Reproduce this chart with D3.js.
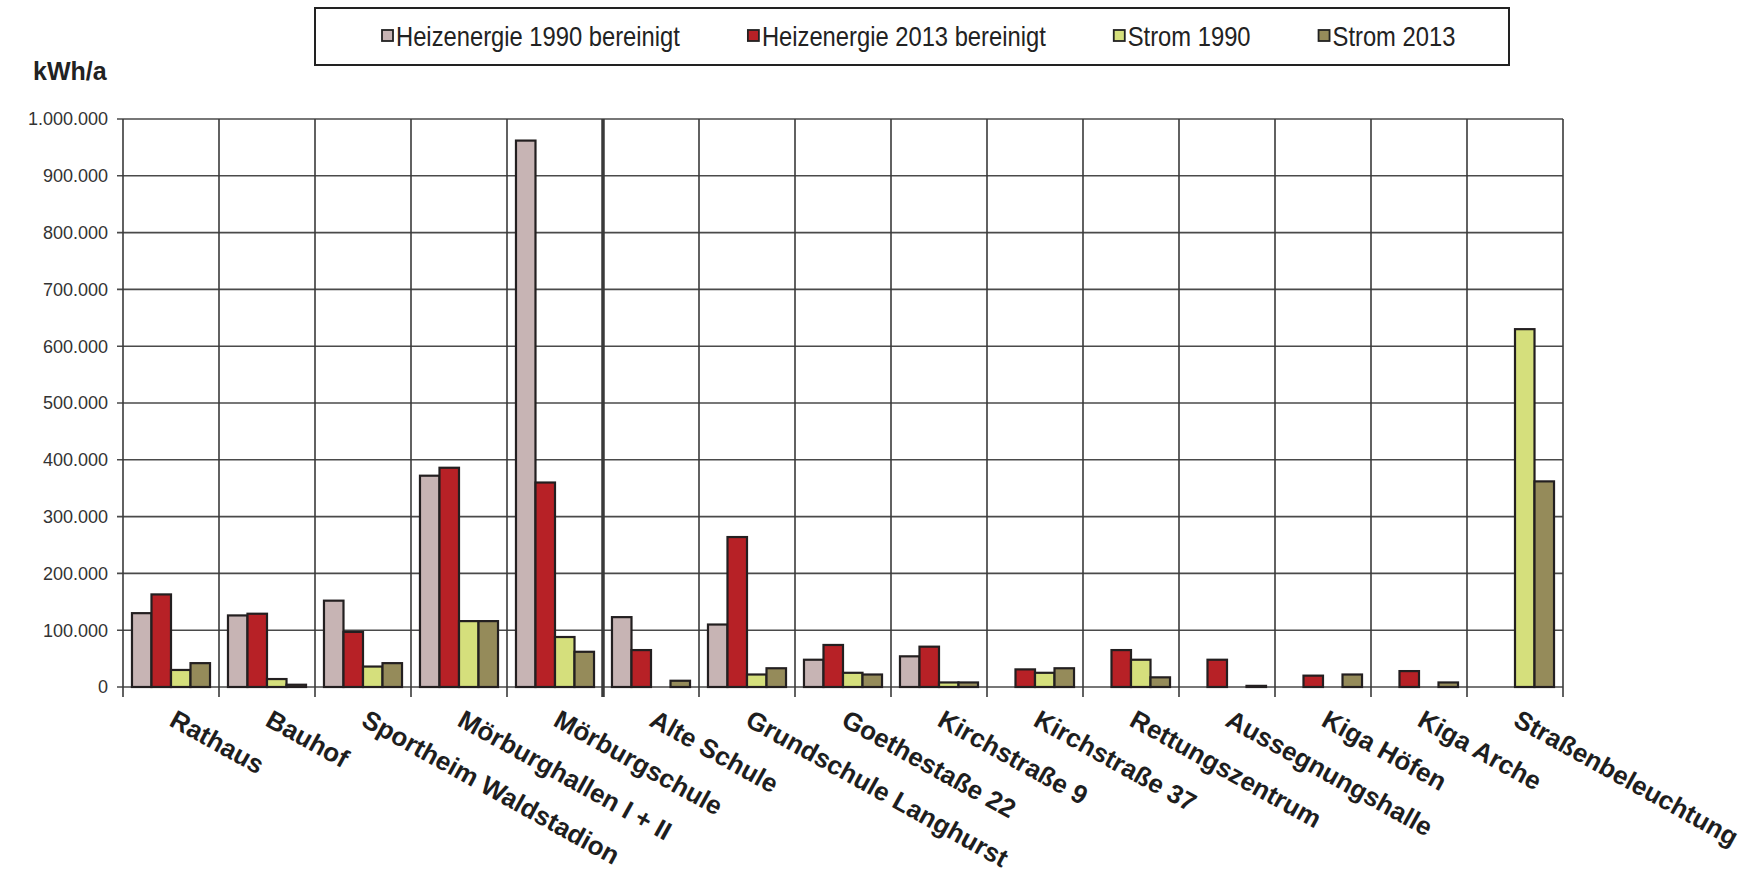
<!DOCTYPE html>
<html>
<head>
<meta charset="utf-8">
<script src="https://cdn.jsdelivr.net/npm/d3@7"></script>
<style>
  body { margin: 0; background: #fff; }
</style>
</head>
<body>
<script>
// Verbrauch der kommunalen Liegenschaften (kWh/a)
var categories = ["Rathaus", "Bauhof", "Sportheim Waldstadion", "Mörburghallen I + II", "Mörburgschule",
                  "Alte Schule", "Grundschule Langhurst", "Goethestaße 22", "Kirchstraße 9", "Kirchstraße 37",
                  "Rettungszentrum", "Aussegnungshalle", "Kiga Höfen", "Kiga Arche", "Straßenbeleuchtung"];
var heiz1990  = [130000, 126000, 152000, 372000, 962000, 123000, 110000, 48000, 54000, 0, 0, 0, 0, 0, 0];
var heiz2013  = [163000, 129000, 97000, 386000, 360000, 65000, 264000, 74000, 71000, 31000, 65000, 48000, 20000, 28000, 0];
var strom1990 = [30000, 14000, 36000, 116000, 88000, 0, 22000, 25000, 8000, 25000, 48000, 0, 0, 0, 630000];
var strom2013 = [42000, 4000, 42000, 116000, 62000, 11000, 33000, 22000, 8000, 33000, 17000, 2000, 22000, 8000, 362000];
var seriesNames = ["Heizenergie 1990 bereinigt", "Heizenergie 2013 bereinigt", "Strom 1990", "Strom 2013"];
var seriesColors = ["#c7b4b4", "#b72126", "#d5df7c", "#958b5a"];
var yTicks = [0, 100000, 200000, 300000, 400000, 500000, 600000, 700000, 800000, 900000, 1000000];

var W = 1760, H = 884;
var margin = {top: 119, right: 197, bottom: 197, left: 123},
    width = W - margin.left - margin.right,
    height = H - margin.top - margin.bottom;

var allSeries = [heiz1990, heiz2013, strom1990, strom2013];

var de = d3.formatLocale({decimal: ",", thousands: ".", grouping: [3], currency: ["", "€"]});
var fmt = de.format(",");

var svg = d3.select("body").append("svg")
    .attr("width", W)
    .attr("height", H)
    .style("background", "#fff");

var g = svg.append("g")
    .attr("transform", "translate(" + margin.left + "," + margin.top + ")");

var x0 = d3.scaleBand()
    .domain(categories)
    .range([0, width])
    .padding(0);

var x1 = d3.scaleBand()
    .domain(d3.range(seriesNames.length))
    .range([0, x0.bandwidth()])
    .paddingInner(0)
    .paddingOuter(0.46);

var y = d3.scaleLinear()
    .domain([0, 1000000])
    .range([height, 0]);

// horizontal grid + left ticks
g.selectAll(".hgrid")
    .data(yTicks)
    .enter().append("line")
    .attr("x1", -6)
    .attr("x2", width)
    .attr("y1", function(d) { return y(d); })
    .attr("y2", function(d) { return y(d); })
    .attr("stroke", "#4a4a4a")
    .attr("stroke-width", 1.6);

// vertical grid at category boundaries, running below the baseline as ticks
var bounds = d3.range(categories.length + 1);
g.selectAll(".vgrid")
    .data(bounds)
    .enter().append("line")
    .attr("x1", function(i) { return i * x0.step(); })
    .attr("x2", function(i) { return i * x0.step(); })
    .attr("y1", 0)
    .attr("y2", height + 10)
    .attr("stroke", "#3a3a3a")
    .attr("stroke-width", function(i) { return i == 5 ? 3.5 : 1.6; });

// y labels
g.selectAll(".ylab")
    .data(yTicks)
    .enter().append("text")
    .attr("x", -15)
    .attr("y", function(d) { return y(d); })
    .attr("dy", "0.35em")
    .attr("text-anchor", "end")
    .style("font-family", "'Liberation Sans', Arial, sans-serif")
    .style("font-size", "18px")
    .style("fill", "#333")
    .text(function(d) { return fmt(d); });

svg.append("text")
    .attr("x", 33)
    .attr("y", 80)
    .style("font-family", "'Liberation Sans', Arial, sans-serif")
    .style("font-size", "25px")
    .style("font-weight", "bold")
    .style("fill", "#222")
    .text("kWh/a");

// bars
var groups = g.selectAll(".grp")
    .data(categories)
    .enter().append("g")
    .attr("transform", function(d) { return "translate(" + x0(d) + ",0)"; });

groups.selectAll("rect")
    .data(function(d, ci) {
        return allSeries.map(function(s, si) { return {si: si, v: s[ci]}; }).filter(function(o) { return o.v > 0; });
    })
    .enter().append("rect")
    .attr("x", function(d) { return x1(d.si); })
    .attr("width", x1.bandwidth())
    .attr("y", function(d) { return y(d.v); })
    .attr("height", function(d) { return height - y(d.v); })
    .attr("fill", function(d) { return seriesColors[d.si]; })
    .attr("stroke", "#231f20")
    .attr("stroke-width", 2.2);

// x labels
g.selectAll(".xlab")
    .data(categories)
    .enter().append("text")
    .attr("transform", function(d) {
        return "translate(" + (x0(d) + x0.bandwidth() / 2 - 3) + "," + (height + 38) + ") rotate(29)";
    })
    .style("font-family", "'Liberation Sans', Arial, sans-serif")
    .style("font-size", "26px")
    .style("font-weight", "bold")
    .style("fill", "#1e1e1e")
    .text(function(d) { return d; });

// legend
var legend = svg.append("g");
legend.append("rect")
    .attr("x", 315)
    .attr("y", 8)
    .attr("width", 1194)
    .attr("height", 57)
    .attr("fill", "#fff")
    .attr("stroke", "#222")
    .attr("stroke-width", 2);

var lx = 382, sx = 0.88;
seriesNames.forEach(function(name, i) {
    var item = legend.append("g").attr("transform", "translate(" + lx + ",36)");
    item.append("rect")
        .attr("x", 0)
        .attr("y", -6)
        .attr("width", 11)
        .attr("height", 11)
        .attr("fill", seriesColors[i])
        .attr("stroke", "#222")
        .attr("stroke-width", 1.8);
    var t = item.append("text")
        .attr("transform", "translate(14,0) scale(" + sx + ",1)")
        .attr("dy", "0.36em")
        .style("font-family", "'Liberation Sans', Arial, sans-serif")
        .style("font-size", "27px")
        .style("fill", "#222")
        .text(name);
    lx += 14 + t.node().getComputedTextLength() * sx + 68;
});
</script>
</body>
</html>
